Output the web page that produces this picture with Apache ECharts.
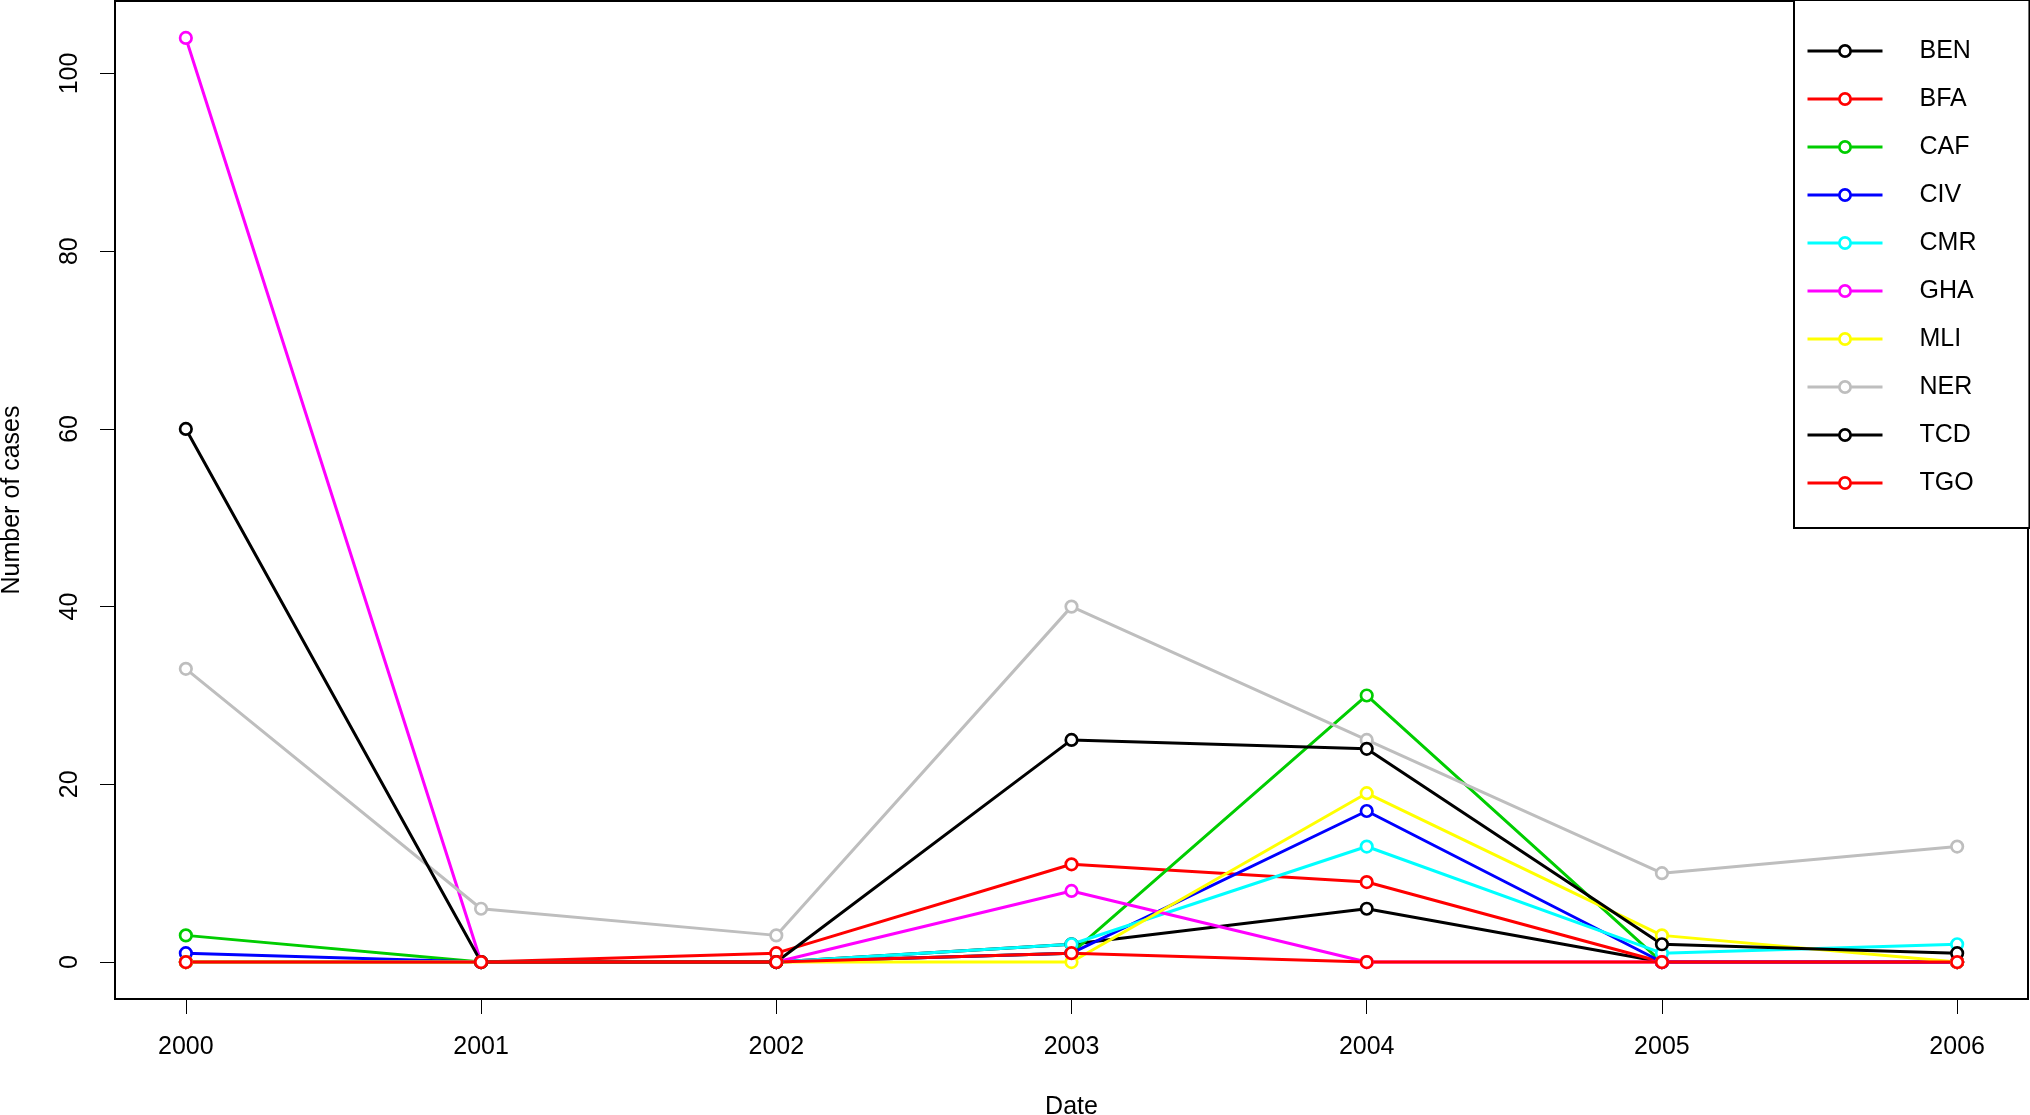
<!DOCTYPE html>
<html>
<head>
<meta charset="utf-8">
<script src="https://cdn.jsdelivr.net/npm/echarts@6/dist/echarts.min.js"></script>
<style>
html,body{margin:0;padding:0;background:#fff;}
#chart{width:2030px;height:1115px;}
</style>
</head>
<body>
<div id="chart"></div>
<script>
const years = [2000, 2001, 2002, 2003, 2004, 2005, 2006];
const countries = ['BEN', 'BFA', 'CAF', 'CIV', 'CMR', 'GHA', 'MLI', 'NER', 'TCD', 'TGO'];
const BEN = [0, 0, 0, 2, 6, 0, 0];
const BFA = [0, 0, 1, 11, 9, 0, 0];
const CAF = [3, 0, 0, 1, 30, 0, 0];
const CIV = [1, 0, 0, 1, 17, 0, 0];
const CMR = [0, 0, 0, 2, 13, 1, 2];
const GHA = [104, 0, 0, 8, 0, 0, 0];
const MLI = [0, 0, 0, 0, 19, 3, 0];
const NER = [33, 6, 3, 40, 25, 10, 13];
const TCD = [60, 0, 0, 25, 24, 2, 1];
const TGO = [0, 0, 0, 1, 0, 0, 0];
const yTicks = [0, 20, 40, 60, 80, 100];

const valuesByCountry = { BEN, BFA, CAF, CIV, CMR, GHA, MLI, NER, TCD, TGO };
const colors = ['#000000', '#FF0000', '#00CD00', '#0000FF', '#00FFFF', '#FF00FF', '#FFFF00', '#BEBEBE', '#000000', '#FF0000'];
const FONT = 'Liberation Sans, Arial, Helvetica, sans-serif';

const series = countries.map((name, i) => ({
  name: name,
  type: 'line',
  data: years.map((y, j) => [y, valuesByCountry[name][j]]),
  symbol: 'circle',
  symbolSize: 11.5,
  lineStyle: { color: colors[i], width: 3 },
  itemStyle: { color: '#fff', borderColor: colors[i], borderWidth: 2.7 },
  emphasis: { disabled: true },
  animation: false
}));

const chart = echarts.init(document.getElementById('chart'), null, { renderer: 'canvas' });
chart.setOption({
  animation: false,
  backgroundColor: '#fff',
  grid: {
    left: 115, right: 2, top: 1, bottom: 116,
    show: true, borderColor: '#000', borderWidth: 2, backgroundColor: 'transparent',
    containLabel: false,
    outerBoundsMode: 'none'
  },
  xAxis: {
    type: 'value',
    min: 1999.76, max: 2006.24,
    name: 'Date', nameLocation: 'middle', nameGap: 96,
    nameTextStyle: { fontSize: 25, fontFamily: FONT, color: '#000' },
    axisLine: { show: false, onZero: false },
    splitLine: { show: false },
    axisTick: { show: true, inside: false, length: 15, lineStyle: { color: '#000', width: 1 }, customValues: years },
    axisLabel: { show: true, margin: 36, fontSize: 25, fontFamily: FONT, color: '#000', customValues: years,
      formatter: v => String(Math.round(v)) }
  },
  yAxis: {
    type: 'value',
    min: -4.16, max: 108.16,
    name: 'Number of cases', nameLocation: 'middle', nameGap: 90, nameRotate: 90,
    nameTextStyle: { fontSize: 25, fontFamily: FONT, color: '#000' },
    axisLine: { show: false, onZero: false },
    splitLine: { show: false },
    axisTick: { show: true, inside: false, length: 15, lineStyle: { color: '#000', width: 1 }, customValues: yTicks },
    axisLabel: { show: true, rotate: 90, margin: 32, fontSize: 25, fontFamily: FONT, color: '#000', customValues: yTicks,
      formatter: v => String(Math.round(v)) }
  },
  legend: {
    orient: 'vertical',
    left: 1794, top: 0,
    padding: [34, 53, 28, 12],
    itemGap: 14, itemWidth: 75, itemHeight: 14,
    borderColor: '#000', borderWidth: 2, backgroundColor: '#fff',
    selectedMode: false,
    lineStyle: { width: 3 },
    itemStyle: { borderWidth: 2.7 },
    textStyle: { fontSize: 25, fontFamily: FONT, color: '#000', lineHeight: 34, padding: [0, 0, 0, 32] },
    data: countries
  },
  series: series
});
</script>
</body>
</html>
